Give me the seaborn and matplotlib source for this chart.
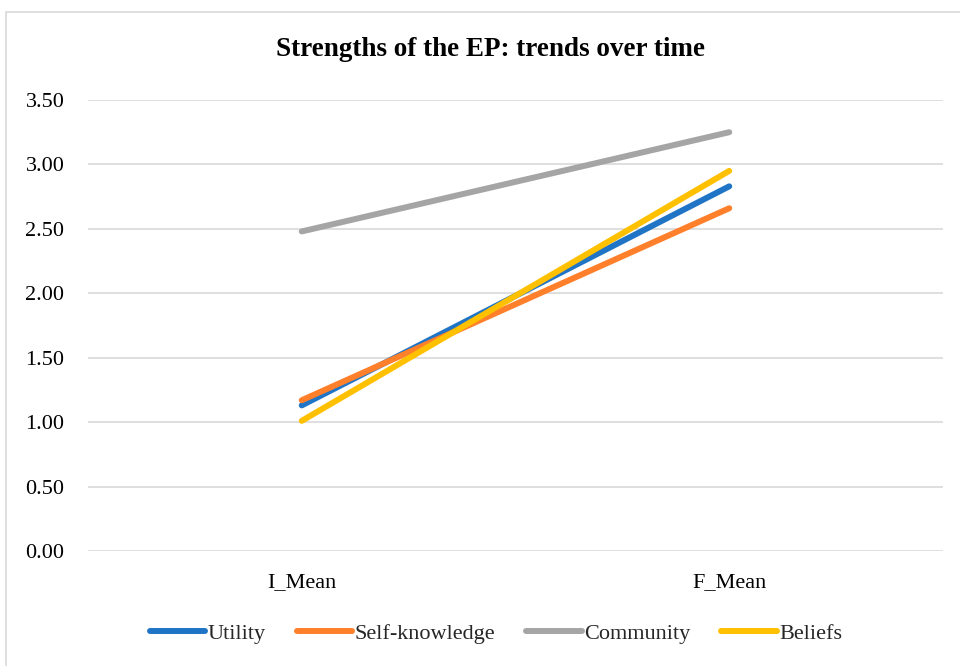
import matplotlib
matplotlib.use("Agg")
import matplotlib.pyplot as plt
import seaborn as sns
import pandas as pd
from matplotlib.patches import Rectangle

categories = ["I_Mean", "F_Mean"]
series_names = ["Utility", "Self-knowledge", "Community", "Beliefs"]
utility = [1.13, 2.83]
self_knowledge = [1.17, 2.66]
community = [2.48, 3.25]
beliefs = [1.01, 2.95]
y_ticks = [0.0, 0.5, 1.0, 1.5, 2.0, 2.5, 3.0, 3.5]
colors = ["#1F74C6", "#FF7F2A", "#A5A5A5", "#FFC000"]

rows = []
for name, vals in zip(series_names, [utility, self_knowledge, community, beliefs]):
    for i, (c, v) in enumerate(zip(categories, vals)):
        rows.append({"pos": i, "Category": c, "Series": name, "Value": v})
df = pd.DataFrame(rows)

sns.set_theme(style="white")
plt.rcParams["font.family"] = ["Liberation Serif", "DejaVu Serif"]

fig = plt.figure(figsize=(9.6, 6.66), dpi=100)
ax = fig.add_axes([88/960, 1-551/666, (943-88)/960, (551-100)/666])

sns.lineplot(data=df, x="pos", y="Value", hue="Series", hue_order=series_names,
             palette=colors, linewidth=4.3, ax=ax, legend=True, zorder=3)
for line in ax.lines:
    line.set_solid_capstyle("round")

ax.set_xlim(-0.5, 1.5)
ax.set_ylim(0, 3.5)
ax.set_xticks(range(len(categories)))
ax.set_xticklabels(categories)
ax.set_yticks(y_ticks)
ax.set_yticklabels([f"{t:.2f}" for t in y_ticks])
ax.set_xlabel("")
ax.set_ylabel("")
ax.yaxis.grid(True, color="#D9D9D9", linewidth=1.2, zorder=0)
ax.xaxis.grid(False)
for s in ax.spines.values():
    s.set_visible(False)
ax.tick_params(axis="y", length=0, pad=17, labelsize=16, labelcolor="#000000")
ax.tick_params(axis="x", length=0, pad=16, labelsize=16, labelcolor="#000000")

fig.text(491/960, 1-50/666, "Strengths of the EP: trends over time",
         ha="center", va="center", fontsize=19.5, fontweight="bold", color="#000000")

handles, labels = ax.get_legend_handles_labels()
ax.legend(handles, labels, loc="center", bbox_to_anchor=(496/960, 1-634/666),
          bbox_transform=fig.transFigure, ncol=4, frameon=False, fontsize=16,
          handlelength=2.5, handletextpad=0.1, columnspacing=1.4)
for lh in ax.get_legend().get_lines():
    lh.set_linewidth(4.3)
    lh.set_solid_capstyle("round")

fig.patches.append(Rectangle((6/960, -0.02), 1.0, 1-12/666+0.02,
                             transform=fig.transFigure, fill=False,
                             edgecolor="#D9D9D9", linewidth=1.2))

fig.savefig("out.png", dpi=100)
